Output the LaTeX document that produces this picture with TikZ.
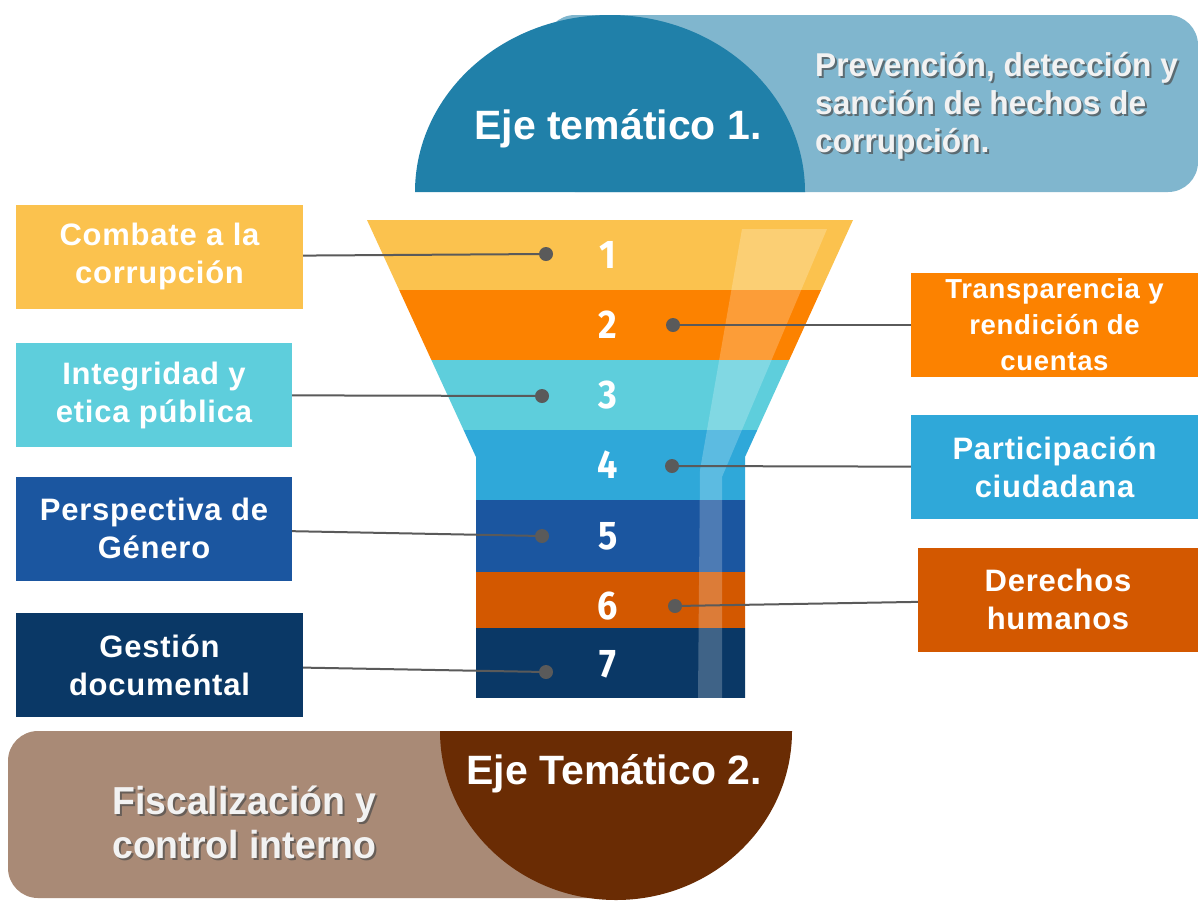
\documentclass[tikz,border=0pt]{standalone}
\usepackage{fontspec}
\setmainfont{Liberation Sans}
\newfontfamily\boxfont[LetterSpace=2.5]{Liberation Sans}
\newfontfamily\numfont[FakeStretch=0.9]{Fira Sans}
\newfontfamily\descfont[FakeStretch=0.96]{Liberation Sans}

\definecolor{ejeuno}{HTML}{2080A9}
\definecolor{ejeunoclaro}{HTML}{80B6CE}
\definecolor{ejedos}{HTML}{6A2C04}
\definecolor{ejedosclaro}{HTML}{A98A76}
\definecolor{amarillo}{HTML}{FBC24E}
\definecolor{naranja}{HTML}{FC8200}
\definecolor{turquesa}{HTML}{5ECEDC}
\definecolor{celeste}{HTML}{2FA8D9}
\definecolor{azul}{HTML}{1B56A0}
\definecolor{naranjaosc}{HTML}{D35800}
\definecolor{marino}{HTML}{0A3866}
\definecolor{gristrazo}{HTML}{5A5A5A}

\begin{document}
\begin{tikzpicture}[x=1pt,y=-1pt,
  tema/.style={inner sep=0pt, minimum height=104pt, text=white, align=center,
    font=\boxfont\bfseries\fontsize{31}{38}\selectfont},
  temachico/.style={tema, font=\boxfont\bfseries\fontsize{27.5}{36}\selectfont},
  punto/.style={circle, fill=gristrazo, inner sep=0pt, minimum size=14pt},
  enlace/.style={draw=gristrazo, line width=2pt},
  numero/.style={text=white, inner sep=0pt, font=\numfont\bfseries\fontsize{40}{40}\selectfont},
  titulo/.style={text=white, inner sep=0pt, font=\bfseries\fontsize{41}{41}\selectfont},
  desc/.style={anchor=west, align=left, inner sep=0pt, text=black!5,
    font=\descfont\bfseries\fontsize{33}{38}\selectfont},
  descdos/.style={desc, font=\descfont\bfseries\fontsize{39}{44}\selectfont},
  sombra/.style={text=black!70, opacity=0.7},
]
  \useasboundingbox[fill=white] (0,0) rectangle (1198,903);

  % Eje tematico 1
  \fill[ejeunoclaro, rounded corners=30pt] (545,15) rectangle (1198,192);
  \fill[ejeuno] (415,192) arc[start angle=180, end angle=360, x radius=195, y radius=177] -- cycle;
  \node[titulo] (eje1) at (618,129) {Eje temático 1.};
  \node[desc, sombra] (eje1sombra) at (817,108) {Prevención, detección y\\sanción de hechos de\\corrupción.};
  \node[desc] (eje1desc) at (815,106) {Prevención, detección y\\sanción de hechos de\\corrupción.};

  % Embudo
  \begin{scope}
    \clip (367,220) -- (853,220) -- (745,457) -- (745,698) -- (476,698) -- (476,457) -- cycle;
    \foreach \ya/\yb/\col in {220/290/amarillo, 290/360/naranja, 360/430/turquesa,
      430/500/celeste, 500/572/azul, 572/628/naranjaosc, 628/698/marino}
      \fill[\col] (360,\ya) rectangle (860,\yb);
    % brillo
    \fill[white, opacity=0.22] (742,229) -- (827,229) -- (722,477) -- (722,698)
      -- (698,698) -- (700,470) -- cycle;
  \end{scope}

  \foreach \i/\y in {1/255,2/325,3/395,4/465,5/536,6/606,7/664}
    \node[numero] (n\i) at (608,\y) {\i};

  % Temas
  \node[tema, fill=amarillo, minimum width=287pt] (combate) at (159.5,256.5) {Combate a la\\corrupción};
  \node[tema, fill=turquesa, minimum width=276pt] (integridad) at (154,395) {Integridad y\\etica pública};
  \node[tema, fill=azul, minimum width=276pt] (genero) at (154,528.5) {Perspectiva de\\Género};
  \node[tema, fill=marino, minimum width=287pt] (gestion) at (159.5,665) {Gestión\\documental};
  \node[temachico, fill=naranja, minimum width=287pt] (transparencia) at (1054.5,325) {Transparencia y\\rendición de\\cuentas};
  \node[tema, fill=celeste, minimum width=287pt] (participacion) at (1054.5,467) {Participación\\ciudadana};
  \node[tema, fill=naranjaosc, minimum width=280pt] (derechos) at (1058,599.5) {Derechos\\humanos};

  % Puntos y enlaces
  \node[punto] (p1) at (546,254) {};
  \node[punto] (p2) at (673,325) {};
  \node[punto] (p3) at (542,396) {};
  \node[punto] (p4) at (672,466) {};
  \node[punto] (p5) at (542,536) {};
  \node[punto] (p6) at (675,606) {};
  \node[punto] (p7) at (546,672) {};
  \draw[enlace] (combate) -- (p1);
  \draw[enlace] (transparencia) -- (p2);
  \draw[enlace] (integridad) -- (p3);
  \draw[enlace] (participacion) -- (p4);
  \draw[enlace] (genero) -- (p5);
  \draw[enlace] (derechos) -- (p6);
  \draw[enlace] (gestion) -- (p7);

  % Eje tematico 2
  \fill[ejedosclaro, rounded corners=30pt] (8,731) rectangle (640,898);
  \fill[ejedos] (440,731) arc[start angle=180, end angle=0, x radius=176, y radius=169] -- cycle;
  \node[titulo] (eje2) at (614,774) {Eje Temático 2.};
  \node[descdos, sombra] (eje2sombra) at (114,824) {Fiscalización y\\control interno};
  \node[descdos] (eje2desc) at (112,822) {Fiscalización y\\control interno};
\end{tikzpicture}
\end{document}
